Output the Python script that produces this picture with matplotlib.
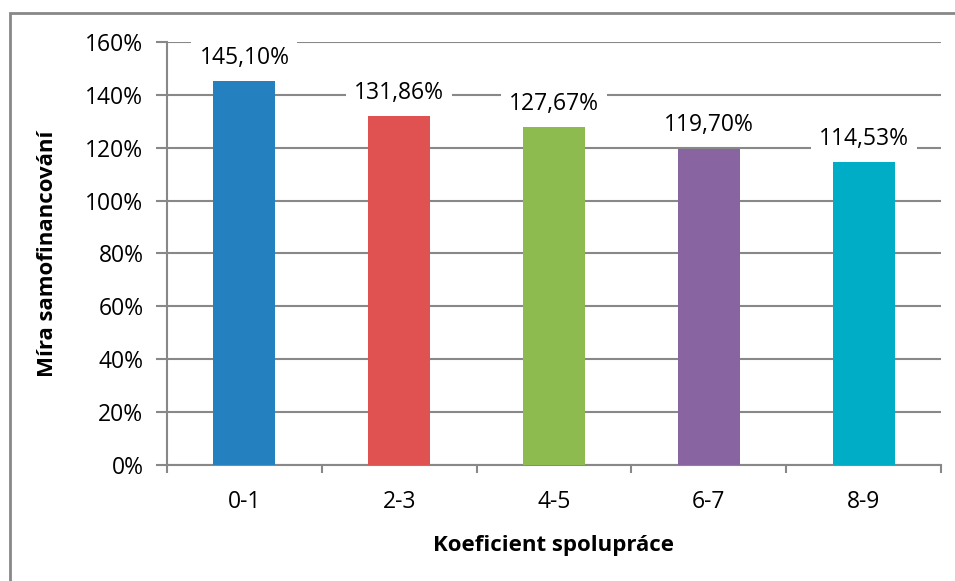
import numpy as np
import matplotlib.pyplot as plt
from matplotlib.patches import Rectangle
from matplotlib.ticker import PercentFormatter

plt.rcParams['font.family'] = ['Open Sans', 'DejaVu Sans']

categories = ["0-1", "2-3", "4-5", "6-7", "8-9"]
values = [145.10, 131.86, 127.67, 119.70, 114.53]
colors = ["#2580C0", "#E05252", "#8EBB50", "#8864A0", "#00ADC6"]

gray = "#888888"

fig = plt.figure(figsize=(9.55, 5.81), dpi=100)
ax = fig.add_axes([0.1749, 0.1997, 0.8104, 0.728])

x = np.arange(len(categories))
ax.bar(x, values, width=0.4, color=colors, zorder=3)

for xi, v in zip(x, values):
    label = "{:.2f}%".format(v).replace(".", ",")
    ax.annotate(label, (xi, v), xytext=(0, 17), textcoords="offset points",
                ha="center", va="center", fontsize=16.5, zorder=4,
                bbox=dict(boxstyle="square,pad=0.35", fc="white", ec="none"))

ax.set_xlim(-0.5, len(categories) - 0.5)
ax.set_ylim(0, 160)
ax.set_yticks(np.arange(0, 161, 20))
ax.yaxis.set_major_formatter(PercentFormatter(decimals=0))
ax.set_xticks(np.arange(-0.5, len(categories), 1))
ax.set_xticklabels([])
ax.set_xticks(x, minor=True)
ax.set_xticklabels(categories, minor=True)
ax.tick_params(axis="x", which="major", length=6, width=1.5, color=gray, direction="out")
ax.tick_params(axis="x", which="minor", length=0, pad=18, labelsize=16.5)
ax.tick_params(axis="y", length=8, width=1.5, color=gray, labelsize=16.5, pad=9)

ax.grid(axis="y", color=gray, linewidth=1.5, zorder=0)
ax.set_axisbelow(True)
for s in ["top", "right"]:
    ax.spines[s].set_visible(False)
for s in ["left", "bottom"]:
    ax.spines[s].set_color(gray)
    ax.spines[s].set_linewidth(1.5)

ax.set_ylabel("Míra samofinancování", fontsize=16, fontweight="bold", labelpad=20)
ax.set_xlabel("Koeficient spolupráce", fontsize=16, fontweight="bold", labelpad=15)

# chart frame (Excel-style border)
fig.patches.append(Rectangle((10 / 955, -0.1), 1.2, (581 - 13) / 581 + 0.1,
                             transform=fig.transFigure, fill=False,
                             edgecolor=gray, linewidth=2))

fig.savefig("out.png", dpi=100)
